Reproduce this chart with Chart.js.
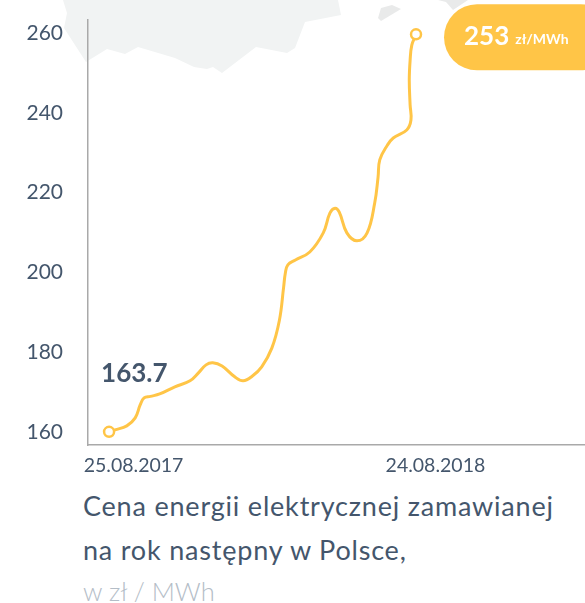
<!DOCTYPE html>
<html lang="pl">
<head>
<meta charset="utf-8">
<title>Cena energii</title>
<script src="https://cdn.jsdelivr.net/npm/chart.js@4"></script>
<style>
    html, body { margin: 0; padding: 0; background: #fff; overflow: hidden; }
    #wrap { position: relative; width: 585px; height: 603px; font-family: Lato, sans-serif; }
    #map { position: absolute; left: 0; top: 0; }
    #priceChart { position: absolute; left: 0; top: 0; }
    .caption { position: absolute; left: 83px; white-space: nowrap; font-size: 27px; letter-spacing: 0.8px; line-height: 30px; color: #44566c; }
    #cap1 { top: 491px; }
    #cap2 { top: 535px; }
    #cap3 { top: 576px; font-size: 25.5px; letter-spacing: 0; color: #b4bdc7; font-weight: 300; }
</style>
</head>
<body>
<div id="wrap">
    <svg id="map" width="585" height="120">
        <polygon fill="#f1f3f3" points="63,0 67,13 64,28 86,62 107,49 125,54 138,47 175,58 194,67 207,69 213,67 222,73 256,47 287,53 295,48 305,22 341,15 338,0"/>
        <polygon fill="#e9eaea" points="392,5 401,9 381,21 378,18 381,8"/>
        <polygon fill="#e9eaea" points="438,0 446,2 453,10 468,0"/>
    </svg>
    <canvas id="priceChart" width="585" height="485"></canvas>
    <div class="caption" id="cap1">Cena energii elektrycznej zamawianej</div>
    <div class="caption" id="cap2">na rok następny w Polsce,</div>
    <div class="caption" id="cap3">w zł / MWh</div>
</div>
<script>
// days since 25.08.2017
const days = [0, 7, 21, 31, 37, 41.5, 49, 60, 78, 96, 106, 115, 123, 134, 149, 159, 170, 181, 193, 202, 207, 209, 212, 221, 238, 254, 262, 268, 273, 282, 294, 306, 315, 319, 321, 330, 337, 353, 358, 357, 356, 357, 359, 364];
const prices = [160, 160.5, 161.5, 163.5, 166.8, 168.5, 168.9, 169.5, 171.3, 172.8, 174.8, 176.8, 177.3, 176.5, 173.8, 172.8, 174, 176.3, 181, 188, 196.3, 199.8, 201.9, 203.1, 205.1, 209.9, 214.9, 216.1, 215.1, 209.9, 207.9, 209.9, 217.4, 223.9, 228.2, 231.9, 233.7, 235.7, 238.2, 242, 248.2, 253.2, 257, 259.7];
const yTicks = [160, 180, 200, 220, 240, 260];
// the date labels sit right of the points they name, same as the original
const xTicks = [29, 387];
const xTickLabels = ['25.08.2017', '24.08.2018'];
const startLabel = '163.7';
const endValue = '253';
const endUnit = 'zł/MWh';

const YELLOW = '#ffc547';
const TEXT = '#44566c';
const FONT = 'Lato, sans-serif';

const calloutsPlugin = {
    id: 'callouts',
    afterDraw(chart) {
        const { ctx, scales } = chart;
        const firstX = scales.x.getPixelForValue(days[0]);
        const firstY = scales.y.getPixelForValue(prices[0]);
        const lastX = scales.x.getPixelForValue(days[days.length - 1]);
        const lastY = scales.y.getPixelForValue(prices[prices.length - 1]);

        ctx.save();
        ctx.textBaseline = 'middle';

        // start value
        ctx.fillStyle = TEXT;
        ctx.font = `bold 26px ${FONT}`;
        ctx.fillText(startLabel, firstX - 8, firstY - 58);

        // end value pill
        ctx.fillStyle = YELLOW;
        ctx.beginPath();
        ctx.roundRect(lastX + 28, lastY - 30, 170, 66, 33);
        ctx.fill();
        ctx.fillStyle = '#fff';
        ctx.font = `bold 26px ${FONT}`;
        ctx.fillText(endValue, lastX + 48, lastY + 2);
        const w = ctx.measureText(endValue).width;
        ctx.font = `bold 14px ${FONT}`;
        ctx.fillText(endUnit, lastX + 48 + w + 6, lastY + 5);
        ctx.restore();
    },
};

// axis labels must not push the plot area in
function noPadding(axis) {
    axis.paddingTop = 0;
    axis.paddingBottom = 0;
    axis.paddingLeft = 0;
    axis.paddingRight = 0;
}

new Chart(document.getElementById('priceChart'), {
    type: 'line',
    data: {
        datasets: [{
            data: days.map((d, i) => ({ x: d, y: prices[i] })),
            borderColor: YELLOW,
            borderWidth: 3,
            tension: 0.4,
            pointRadius: ctx => (ctx.dataIndex === 0 || ctx.dataIndex === days.length - 1) ? 5 : 0,
            pointBackgroundColor: '#fff',
            pointBorderColor: YELLOW,
            pointBorderWidth: 2.5,
        }],
    },
    options: {
        responsive: false,
        animation: false,
        layout: { autoPadding: false, padding: { top: 20 } },
        plugins: { legend: { display: false }, tooltip: { enabled: false } },
        scales: {
            x: {
                type: 'linear',
                min: -25,
                max: 564.4,
                afterBuildTicks: axis => { axis.ticks = xTicks.map(v => ({ value: v })); },
                afterFit: axis => { axis.height = 40; noPadding(axis); },
                grid: { display: false, drawTicks: false },
                border: { color: '#a9a9a9', width: 1.5 },
                ticks: {
                    autoSkip: false,
                    maxRotation: 0,
                    padding: 9,
                    color: TEXT,
                    font: { family: 'Lato', size: 19.5 },
                    callback: (v, i) => xTickLabels[i],
                },
            },
            y: {
                min: 156.7,
                max: 263.3,
                afterBuildTicks: axis => { axis.ticks = yTicks.map(v => ({ value: v })); },
                afterFit: axis => { axis.width = 88; noPadding(axis); },
                grid: { display: false, drawTicks: false },
                border: { color: '#a9a9a9', width: 1.5 },
                ticks: {
                    padding: 25,
                    color: TEXT,
                    font: { family: 'Lato', size: 21 },
                },
            },
        },
    },
    plugins: [calloutsPlugin],
});
</script>
</body>
</html>
